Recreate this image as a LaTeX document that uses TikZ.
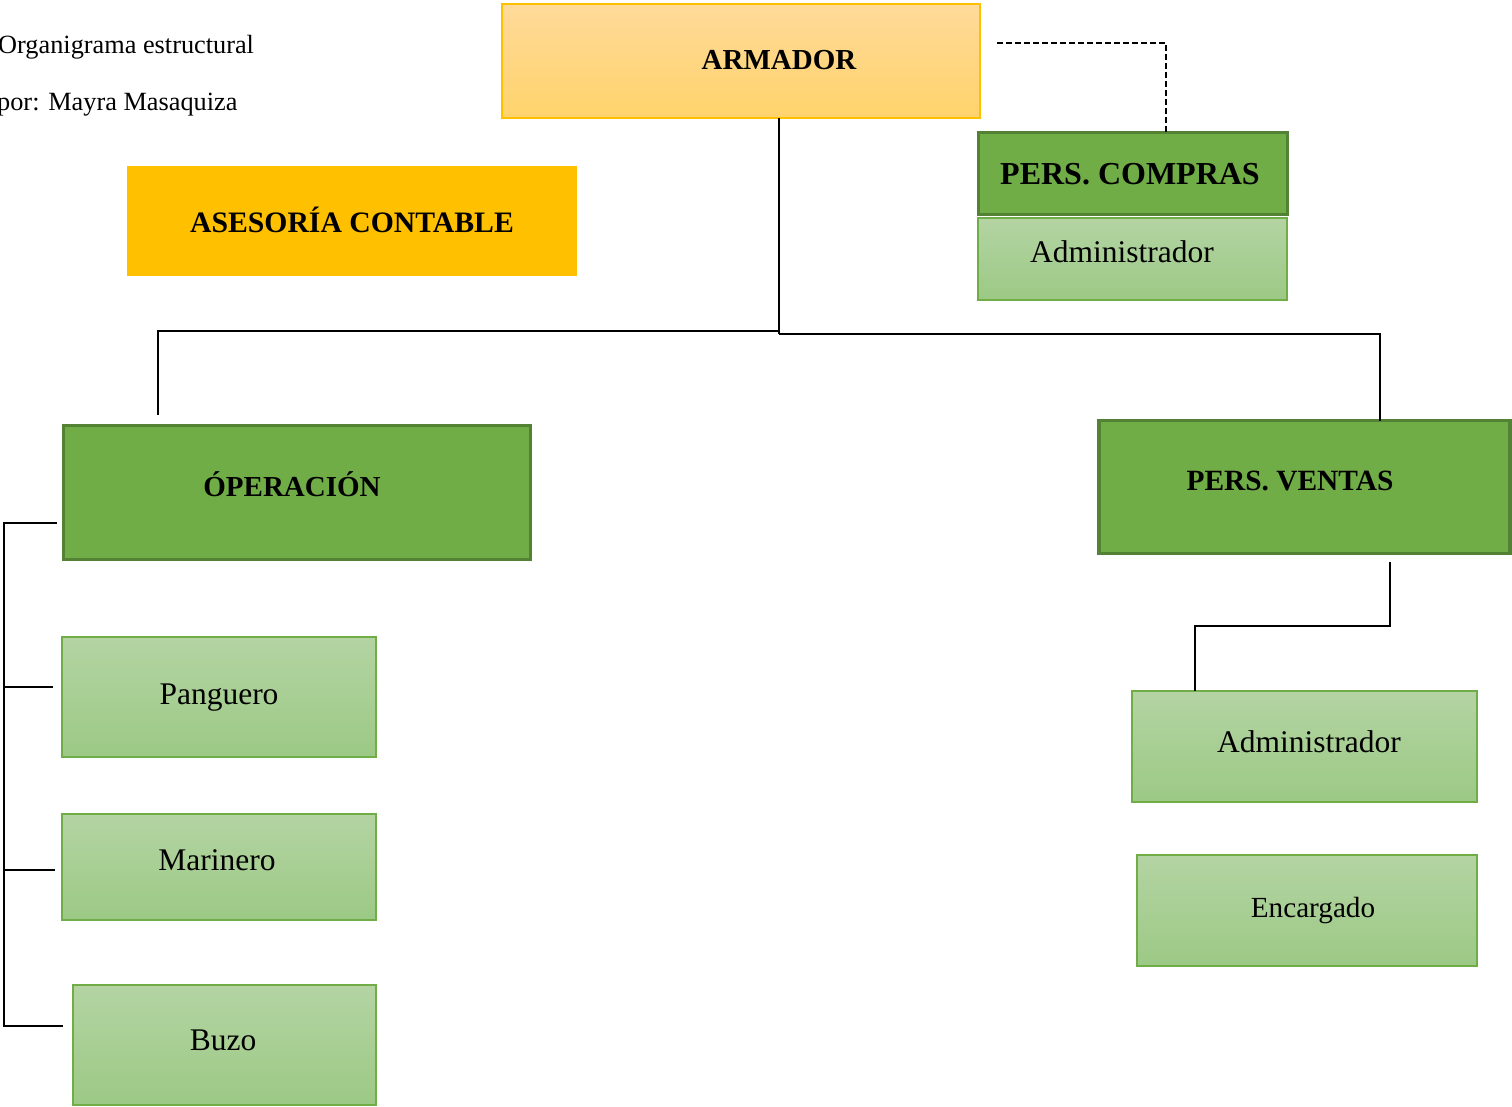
\documentclass[tikz,border=0pt]{standalone}
\usepackage{fontspec}
\setmainfont{Liberation Serif}
\definecolor{orgA}{HTML}{FFDA9A}
\definecolor{orgB}{HTML}{FFD36B}
\definecolor{orgBorder}{HTML}{FFC000}
\definecolor{asesor}{HTML}{FFC000}
\definecolor{dkgreen}{HTML}{70AD47}
\definecolor{dkborder}{HTML}{548235}
\definecolor{ltA}{HTML}{B4D4A3}
\definecolor{ltB}{HTML}{9CC985}
\tikzset{
  boxbase/.style={rectangle, inner sep=0pt, outer sep=0pt},
  orgbox/.style={boxbase, draw=orgBorder, line width=2pt, top color=orgA, bottom color=orgB},
  asbox/.style={boxbase, fill=asesor},
  dkbox/.style={boxbase, draw=dkborder, line width=3.5pt, fill=dkgreen},
  ltbox/.style={boxbase, draw=dkgreen, line width=2pt, top color=ltA, bottom color=ltB},
  boldtxt/.style={inner sep=0pt, anchor=base, font=\fontsize{29}{34}\selectfont\bfseries},
  regtxt/.style={inner sep=0pt, anchor=base, font=\fontsize{31.5}{36}\selectfont},
  titletxt/.style={inner sep=0pt, anchor=base west, font=\fontsize{26.3}{30}\selectfont},
  conn/.style={draw=black, line width=1.2pt},
  dconn/.style={draw=black, line width=1.2pt, dash pattern=on 6pt off 3pt}
}
\begin{document}
\begin{tikzpicture}[x=1pt,y=-1pt]
\useasboundingbox (0,0) rectangle (1512,1106);
% boxes
\node[orgbox, minimum width=478pt, minimum height=114pt] (armador) at (741,61) {};
\node[asbox, minimum width=450pt, minimum height=110pt] (asesoria) at (352,221) {};
\node[dkbox, minimum width=309pt, minimum height=82pt] (compras) at (1133,173.5) {};
\node[ltbox, minimum width=309pt, minimum height=82pt] (admin1) at (1132,258.5) {};
\node[dkbox, minimum width=467pt, minimum height=134pt] (operacion) at (297,492.5) {};
\node[dkbox, minimum width=411pt, minimum height=133pt] (ventas) at (1304.5,487) {};
\node[ltbox, minimum width=314pt, minimum height=120pt] (panguero) at (218.5,696.5) {};
\node[ltbox, minimum width=314pt, minimum height=106pt] (marinero) at (218.5,866.5) {};
\node[ltbox, minimum width=303pt, minimum height=120pt] (buzo) at (224,1044.5) {};
\node[ltbox, minimum width=345pt, minimum height=111pt] (admin2) at (1304,746) {};
\node[ltbox, minimum width=340pt, minimum height=111pt] (encargado) at (1306.5,910) {};
% texts
\node[titletxt] (title1) at (-2,53) {Organigrama estructural};
\node[titletxt] (title2) at (-3,110) {por: Mayra Masaquiza};
\node[boldtxt] (tarm) at (779,69) {ARMADOR};
\node[boldtxt, font=\fontsize{29.7}{34}\selectfont\bfseries] (tase) at (352,232) {ASESORÍA CONTABLE};
\node[boldtxt, font=\fontsize{32}{37}\selectfont\bfseries] (tcom) at (1130,184) {PERS. COMPRAS};
\node[regtxt] (tad1) at (1122,262) {Administrador};
\node[boldtxt] (tope) at (292,496) {ÓPERACIÓN};
\node[boldtxt, font=\fontsize{29.4}{34}\selectfont\bfseries] (tven) at (1290,490) {PERS. VENTAS};
\node[regtxt] (tpan) at (219,704) {Panguero};
\node[regtxt] (tmar) at (217,870) {Marinero};
\node[regtxt] (tbuz) at (223,1050) {Buzo};
\node[regtxt] (tad2) at (1309,752) {Administrador};
\node[regtxt, font=\fontsize{29.2}{34}\selectfont] (tenc) at (1313,917) {Encargado};
% connector coordinates
\coordinate (jL) at (779,331);
\coordinate (jR) at (779,334);
\coordinate (opTop) at (158,415);
\coordinate (vTop) at (1380,421);
\coordinate (dA) at (997,43);
\coordinate (dB) at (1166,133);
\coordinate (vb) at (1390,562);
\coordinate (v2) at (1195,626);
\coordinate (l0) at (57,523);
\coordinate (l1) at (53,687);
\coordinate (l2) at (55,870);
\coordinate (l3) at (63,1026);
\coordinate (spine) at (4,0);
% connectors
\draw[conn] (armador.south -| jR) -- (jR);
\draw[conn] (jL) -| (opTop);
\draw[conn] (jR) -| (vTop);
\draw[dconn] (dA) -| (dB);
\draw[conn] (vb) |- (v2) -- (v2 |- admin2.north);
\draw[conn] (l0) -- (spine |- l0) -- (spine |- l3) -- (l3);
\draw[conn] (spine |- l1) -- (l1);
\draw[conn] (spine |- l2) -- (l2);
\end{tikzpicture}
\end{document}
